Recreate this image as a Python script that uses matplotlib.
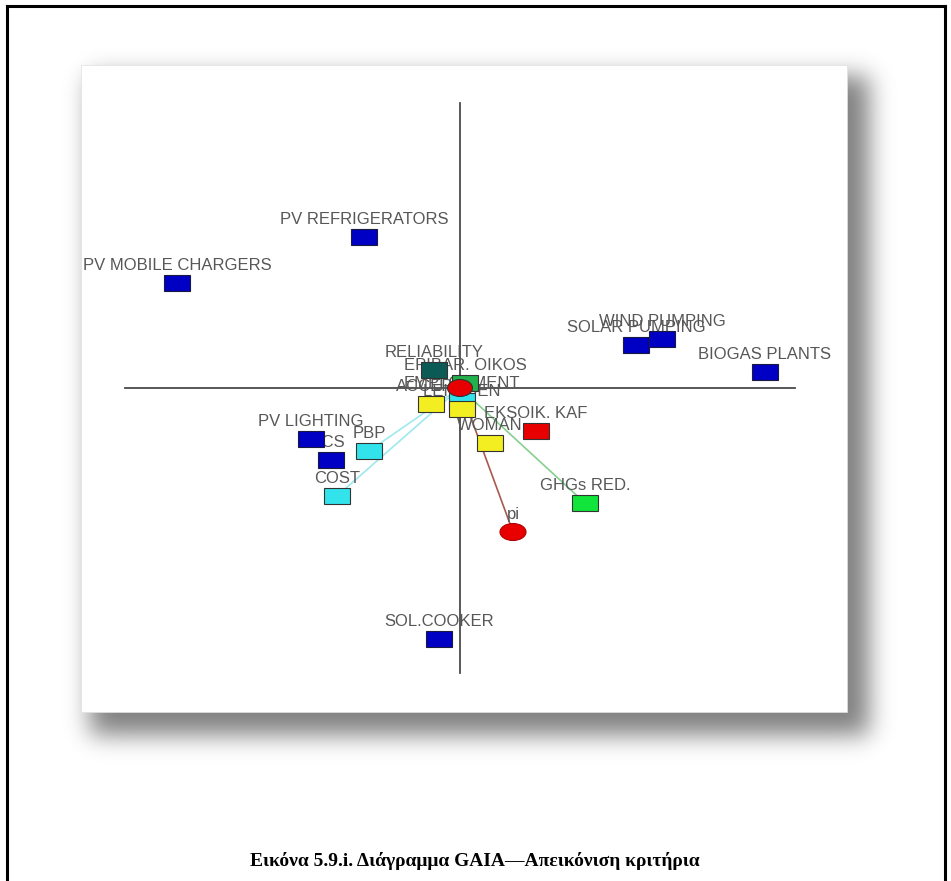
import matplotlib.pyplot as plt
import numpy as np
from matplotlib.patches import Rectangle, Ellipse
from matplotlib.transforms import offset_copy

# GAIA plane, origin at the cross of the two axes
alt_names = ["PV REFRIGERATORS", "PV MOBILE CHARGERS", "SOLAR PUMPING", "WIND PUMPING",
             "BIOGAS PLANTS", "PV LIGHTING", "ICS", "SOL.COOKER"]
alt_x = [-0.96, -2.83, 1.76, 2.02, 3.05, -1.49, -1.29, -0.21]
alt_y = [1.51, 1.05, 0.43, 0.49, 0.16, -0.51, -0.72, -2.51]

crit_names = ["RELIABILITY", "EPIBAR. OIKOS", "EMPLOYMENT", "ACCEPT.", "LEIT. DEN",
              "PBP", "COST", "WOMAN", "EKSOIK. KAF", "GHGs RED."]
crit_x = [-0.26, 0.05, 0.02, -0.29, 0.02, -0.91, -1.23, 0.30, 0.76, 1.25]
crit_y = [0.18, 0.05, -0.13, -0.16, -0.21, -0.63, -1.08, -0.55, -0.43, -1.15]
crit_colors = ["#0b5a56", "#22b14c", "#33e3ec", "#f2ee22", "#f2ee22",
               "#33e3ec", "#33e3ec", "#f2ee22", "#e80000", "#11e43a"]
line_colors = [None, None, None, None, None,
               "#9ee9ee", "#9ee9ee", None, None, "#86d08e"]

# decision axis pi and the red criterion at the centre
pi_x, pi_y = 0.53, -1.44
centre_x, centre_y = 0.0, 0.0

caption = "Εικόνα 5.9.i. Διάγραμμα GAIA—Απεικόνιση κριτήρια"

W, H = 951, 881
fig = plt.figure(figsize=(W / 100, H / 100), dpi=100)

# page background, border and shadowed white box
bg = fig.add_axes([0, 0, 1, 1])
bg.set_xlim(0, W)
bg.set_ylim(H, 0)
bg.axis('off')


def soft(n, lo, hi, sigma):
    idx = np.arange(n)
    inside = ((idx >= lo) & (idx <= hi)).astype(float)
    k = np.arange(-4 * sigma, 4 * sigma + 1)
    g = np.exp(-0.5 * (k / sigma) ** 2)
    g /= g.sum()
    return np.convolve(inside, g, mode='same')


shadow = np.zeros((H, W, 4))
shadow[..., 3] = 0.5 * np.outer(soft(H, 76, 734, 12), soft(W, 90, 868, 12))
bg.imshow(shadow, extent=(0, W, H, 0), interpolation='bilinear', aspect='auto', zorder=0)
bg.set_xlim(0, W)
bg.set_ylim(H, 0)
bg.add_patch(Rectangle((81, 65), 766, 647, fc='white', ec='#e0e0e0', lw=0.5, zorder=1))

bg.plot([7, 7], [H, 6], color='black', lw=2.2, zorder=2, solid_capstyle='projecting')
bg.plot([7, 945], [6, 6], color='black', lw=2.2, zorder=2, solid_capstyle='projecting')
bg.plot([945, 945], [6, H], color='black', lw=2.2, zorder=2, solid_capstyle='projecting')

bg.text(475, 861, caption, ha='center', va='center', fontsize=14, fontweight='bold',
        family=['Liberation Serif', 'DejaVu Serif'], zorder=3)

# GAIA plane
ax = fig.add_axes([81 / W, (H - 712) / H, 766 / W, 647 / H])
ax.set_xlim(-3.79, 3.87)
ax.set_ylim(-3.24, 3.23)
ax.axis('off')

ax.plot([0, 0], [-2.85, 2.85], color='#4a4a4a', lw=1.3, zorder=1)
ax.plot([-3.35, 3.35], [0, 0], color='#4a4a4a', lw=1.3, zorder=1)

lab = offset_copy(ax.transData, fig=fig, x=0, y=13, units='dots')
txt_kw = dict(ha='center', va='baseline', fontsize=12, color='#575757',
              family=['Liberation Sans', 'DejaVu Sans'], zorder=3)
rw, rh = 0.26, 0.16


def put_label(x, y, name):
    t = ax.text(x, y, name, transform=lab, **txt_kw)
    t.set_clip_on(True)
    t.set_clip_box(ax.bbox)


for name, x, y in zip(alt_names, alt_x, alt_y):
    put_label(x, y, name)
    ax.add_patch(Rectangle((x - rw / 2, y - rh / 2), rw, rh, fc='#0000c4',
                           ec='#1a1a40', lw=0.8, zorder=4))

for name, x, y, c, lc in zip(crit_names, crit_x, crit_y, crit_colors, line_colors):
    if lc:
        ax.plot([0, x], [0, y], color=lc, lw=1.2, zorder=2)
    put_label(x, y, name)
    ax.add_patch(Rectangle((x - rw / 2, y - rh / 2), rw, rh, fc=c,
                           ec='#333333', lw=0.8, zorder=4))

ax.add_patch(Ellipse((centre_x, centre_y), 0.25, 0.17, fc='#e80000', ec='#333333',
                     lw=0.8, zorder=5))

ax.plot([0, pi_x], [0, pi_y], color='#a65a50', lw=1.2, zorder=2)
put_label(pi_x, pi_y, "pi")
ax.add_patch(Ellipse((pi_x, pi_y), 0.26, 0.17, fc='#e80000', ec='#b00000',
                     lw=0.8, zorder=4))

fig.savefig('out.png', dpi=100)
